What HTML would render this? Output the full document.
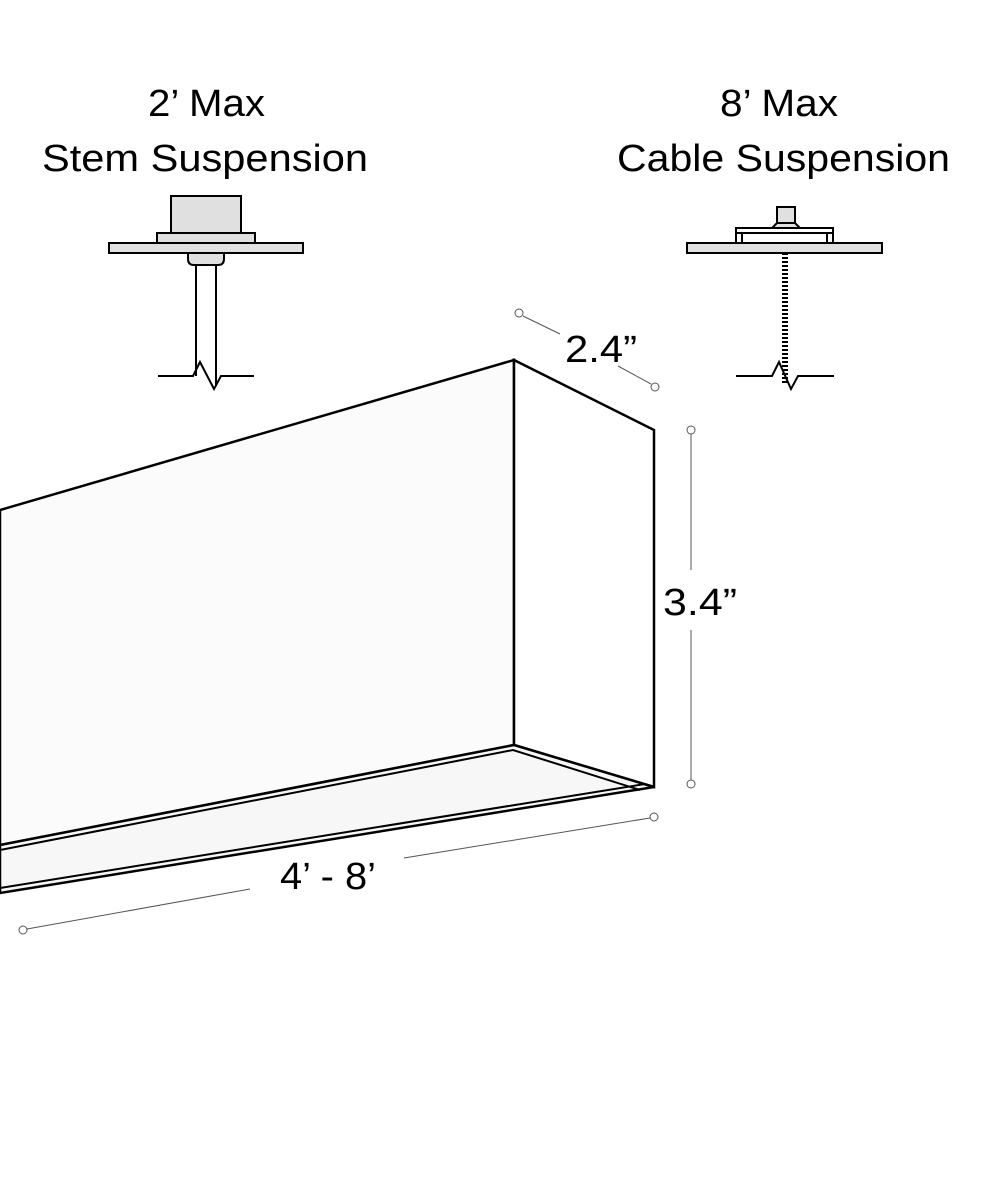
<!DOCTYPE html>
<html><head><style>body{margin:0;background:#fff}svg{display:block}</style></head><body>
<svg width="1000" height="1200" viewBox="0 0 1000 1200" xmlns="http://www.w3.org/2000/svg" font-family="'Liberation Sans',sans-serif">
<rect width="1000" height="1200" fill="#fff"/>
<g font-size="38" fill="#000">
<text x="148" y="116" textLength="117" lengthAdjust="spacingAndGlyphs">2’ Max</text>
<text x="42" y="171" textLength="326" lengthAdjust="spacingAndGlyphs">Stem Suspension</text>
<text x="720" y="116" textLength="118" lengthAdjust="spacingAndGlyphs">8’ Max</text>
<text x="617" y="171" textLength="333" lengthAdjust="spacingAndGlyphs">Cable Suspension</text>
</g>
<!-- stem -->
<g stroke="#000" stroke-width="2" fill="#e0e0e0">
<rect x="171" y="196" width="70" height="37"/>
<rect x="157" y="233" width="98" height="10"/>
<rect x="109" y="243" width="194" height="10"/>
<path d="M188 253 h36 v6 q0 6 -6 6 h-24 q-6 0 -6 -6z"/>
<path d="M196 265 V376 M216 265 V386" fill="none"/>
<path d="M158 376 H193 L200 362 L214 389 L221 376 H254" fill="none"/>
</g>
<!-- cable -->
<g stroke="#000" stroke-width="2" fill="#e0e0e0">
<rect x="777" y="207" width="18" height="16"/>
<path d="M772 228 l5 -5 h18 l5 5z"/>
<rect x="736" y="228" width="97" height="15" fill="#fff"/>
<line x1="736" y1="233" x2="833" y2="233"/>
<line x1="742" y1="233" x2="742" y2="243"/>
<line x1="827" y1="233" x2="827" y2="243"/>
<rect x="687" y="243" width="195" height="10"/>
<path d="M736 376 H772 L779 362 L791 389 L798 376 H834" fill="none"/>
<line x1="785" y1="253" x2="785" y2="385" stroke-width="6" stroke-dasharray="2 2"/>
</g>
<!-- fixture -->
<g stroke="#000" stroke-width="2.5" stroke-linejoin="miter">
<path d="M0 510 L514 360 L514 745 L0 845Z" fill="#fbfbfb"/>
<path d="M514 360 L654 430 L654 787 L514 745Z" fill="#fff"/>
<path d="M514 745 L654 787 L0 893 L0 845Z" fill="#f7f7f7"/>
<path d="M0 850 L513 750 L640 790" fill="none" stroke-width="2"/>
<path d="M0 888 L645 784" fill="none" stroke-width="2"/>
</g>
<!-- dimensions -->
<g stroke="#555" stroke-width="1" fill="#fff">
<line x1="523" y1="316" x2="560" y2="334"/>
<line x1="618" y1="366" x2="651" y2="384"/>
<circle cx="519" cy="313" r="4"/>
<circle cx="655" cy="387" r="4"/>
<line x1="691" y1="434" x2="691" y2="780"/>
<circle cx="691" cy="430" r="4"/>
<circle cx="691" cy="784" r="4"/>
<line x1="650" y1="818" x2="404" y2="858"/>
<line x1="250" y1="889" x2="27" y2="929"/>
<circle cx="654" cy="817" r="4"/>
<circle cx="23" cy="930" r="4"/>
</g>
<rect x="660" y="570" width="80" height="60" fill="#fff"/>
<g font-size="38" fill="#000">
<text x="565" y="362" textLength="72" lengthAdjust="spacingAndGlyphs">2.4”</text>
<text x="663" y="615" textLength="74" lengthAdjust="spacingAndGlyphs">3.4”</text>
<text x="280" y="889" textLength="96" lengthAdjust="spacingAndGlyphs">4’ - 8’</text>
</g>
</svg>
</body></html>
